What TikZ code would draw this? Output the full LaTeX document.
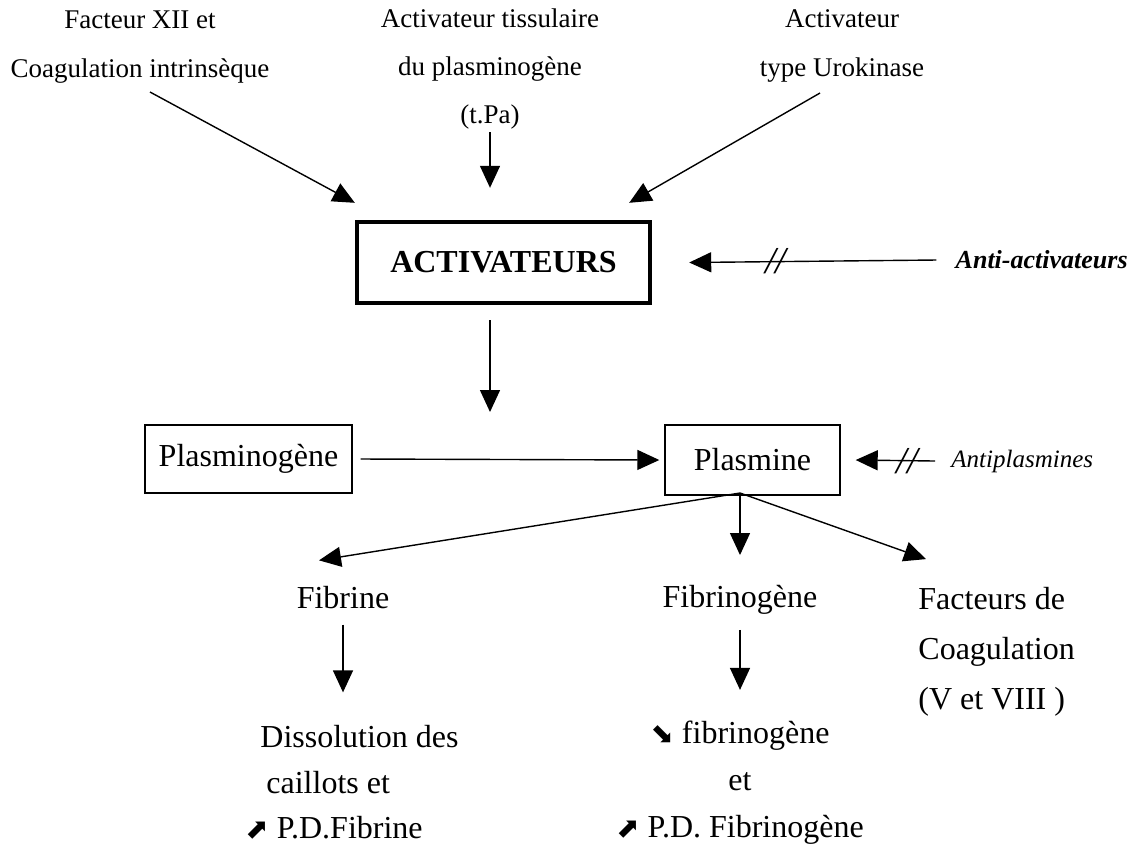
\documentclass[tikz,border=0pt]{standalone}
\usepackage{fontspec}
\setmainfont{Liberation Serif}
\newfontfamily\arrowfont{DejaVu Sans}
\usetikzlibrary{arrows.meta}

\begin{document}
\begin{tikzpicture}[x=0.5pt,y=-0.5pt,
    arr/.style={-{Triangle[length=11pt,width=10pt]}, line width=0.7pt},
    src/.style={align=center, inner sep=0pt, font=\fontsize{13.5}{24.5}\selectfont},
    txt/.style={inner sep=0pt, font=\fontsize{16}{23.5}\selectfont},
    box/.style={draw, line width=0.7pt, inner sep=0pt, font=\fontsize{16}{20}\selectfont},
    cut/.style={inner sep=0pt, font=\fontsize{19}{19}\selectfont\itshape}
]
    \useasboundingbox (0,0) rectangle (1134,843);

    % Sources of activators
    \node[src] (fxii) at (140,47) {Facteur XII et\\Coagulation intrinsèque};
    \node[src, font=\fontsize{13.5}{24}\selectfont] (tpa) at (490,69) {Activateur tissulaire\\du plasminogène\\(t.Pa)};
    \node[src] (upa) at (842,46) {Activateur\\type Urokinase};

    \coordinate (fxii-out) at (150,92);
    \coordinate (tpa-out) at (490,132);
    \coordinate (upa-out) at (820,93);

    % Main boxes
    \node[box, line width=2.2pt, minimum width=146.5pt, minimum height=40.5pt,
          font=\fontsize{16}{20}\selectfont\bfseries] (act) at (503.5,262.5) {ACTIVATEURS};
    \node[box, minimum width=103.5pt, minimum height=34pt] (plg) at (248.5,459) {Plasminogène};
    \node[box, minimum width=87.5pt, minimum height=35pt] (plm) at (752.5,460) {Plasmine};

    % Inhibitors
    \node[txt, anchor=east, font=\fontsize{13}{16}\selectfont\bfseries\itshape] (antiact) at (1128,260) {Anti-activateurs};
    \node[txt, anchor=west, font=\fontsize{12.5}{16}\selectfont\itshape] (antipl) at (951,461) {Antiplasmines};

    % Activation arrows
    \draw[arr] (fxii-out) -- ([yshift=8.5pt]act.north west);
    \draw[arr] (tpa-out) -- ([yshift=16pt]tpa-out |- act.north);
    \draw[arr] (upa-out) -- ([xshift=-11.5pt,yshift=8.5pt]act.north east);
    \draw[arr] ([yshift=-7.5pt]tpa-out |- act.south) -- ([yshift=24pt]tpa-out |- plm.west);
    \draw[arr] ([xshift=4pt]plg.east) -- ([xshift=-2.5pt]plm.west);

    % Inhibition arrows
    \draw[arr] ([xshift=-9.5pt]antiact.west) -- node[cut, pos=0.65] {//} ([xshift=18.5pt]act.east);
    \draw[arr] ([xshift=-8pt]antipl.west) -- node[cut, pos=0.35] {//} ([xshift=7.5pt]plm.east);

    % Targets of plasmine
    \coordinate (fork) at (740,493);
    \node[txt] (fbn) at (343,598) {Fibrine};
    \node[txt] (fbg) at (740,600) {Fibrinogène};
    \node[txt, anchor=west, align=left, font=\fontsize{16}{25}\selectfont] (fac) at (918,652) {Facteurs de\\Coagulation\\(V et VIII )};

    \draw[arr] (fork) -- ([xshift=-12pt,yshift=13pt]fbn.north);
    \draw[arr] (fork) -- ([yshift=15pt]fbg.north);
    \draw[arr] (fork) -- ([xshift=4pt,yshift=14pt]fac.north west);

    % Results
    \node[txt, anchor=west] (dis) at (260,737) {Dissolution des};
    \node[txt, anchor=west] (cail) at (266,783) {caillots et};
    \node[txt, anchor=west] (pdf) at (245,828) {{\arrowfont\fontsize{14}{16}\selectfont ⬈} P.D.Fibrine};
    \node[txt, align=center] (fgres) at (740,783) {{\arrowfont\fontsize{14}{16}\selectfont ⬊} fibrinogène\\et\\{\arrowfont\fontsize{14}{16}\selectfont ⬈} P.D. Fibrinogène};

    \draw[arr] ([yshift=-7.5pt]fbn.south) -- ([yshift=16.5pt]fbn.south |- dis.north);
    \draw[arr] ([yshift=-7.5pt]fbg.south) -- ([yshift=15.5pt]fgres.north);
\end{tikzpicture}
\end{document}
